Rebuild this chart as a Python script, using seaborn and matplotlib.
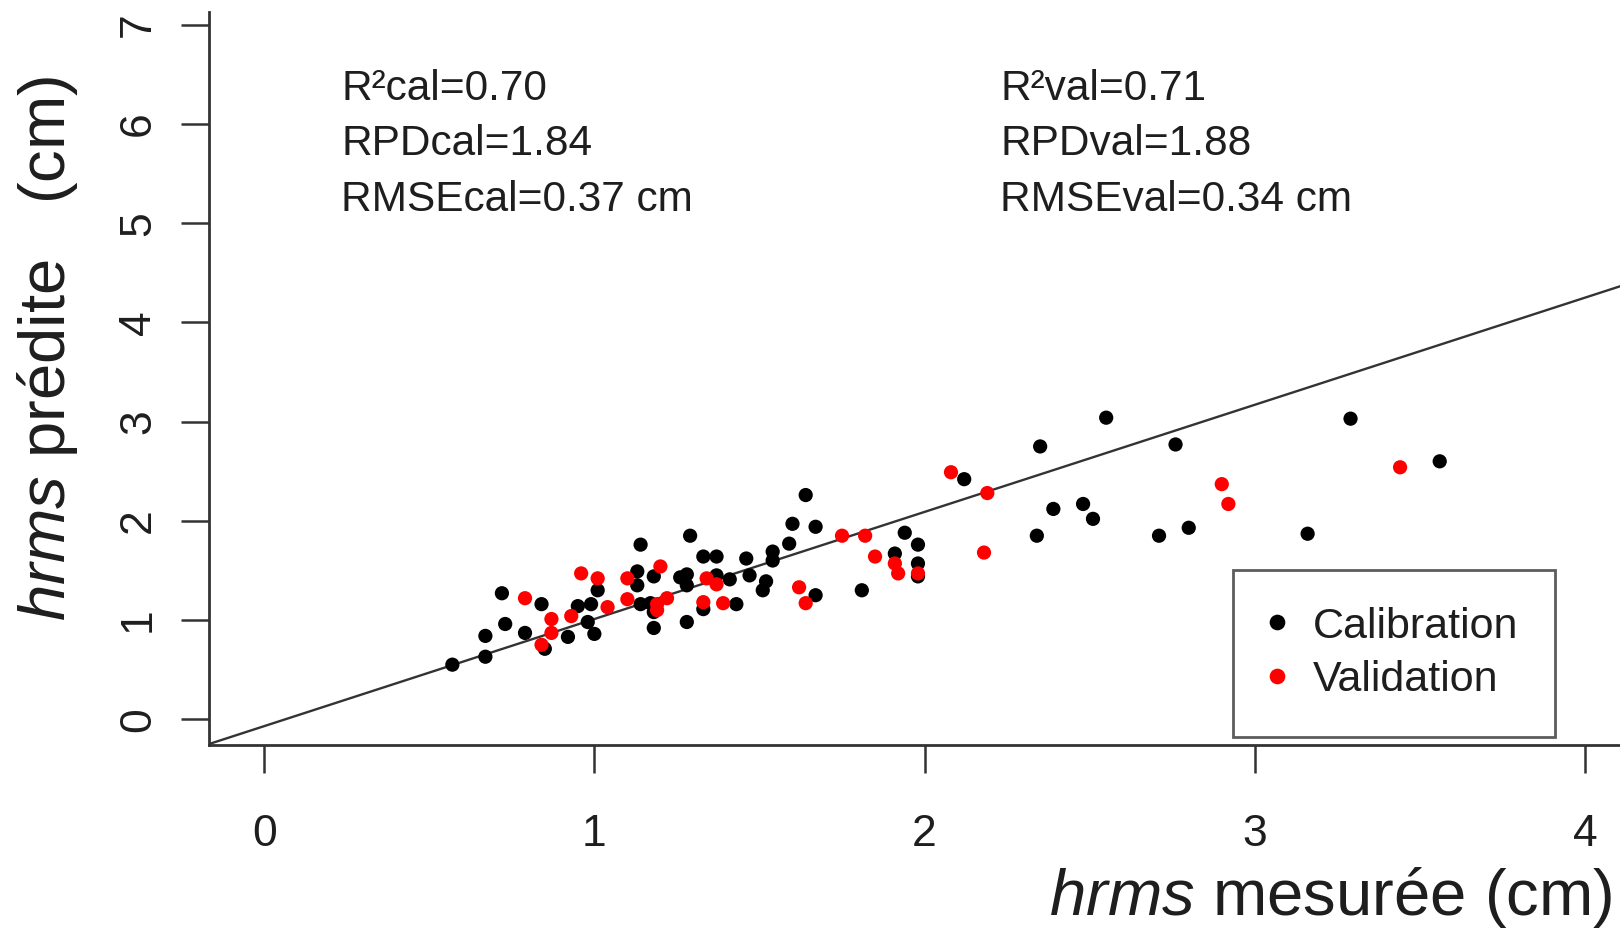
import matplotlib
matplotlib.use("Agg")
import matplotlib.pyplot as plt
import pandas as pd
import seaborn as sns

# calibration set (black)
cal_x = [0.57, 0.67, 0.67, 0.73, 0.72, 0.79, 0.84, 0.85, 0.92, 0.95, 0.98, 1.00, 0.99, 1.01,
         1.13, 1.13, 1.18, 1.14, 1.14, 1.18, 1.18, 1.17, 1.28, 1.29, 1.33, 1.37, 1.26, 1.28,
         1.28, 1.33, 1.37, 1.41, 1.43, 1.46, 1.47, 1.52, 1.51, 1.54, 1.54, 1.59, 1.60, 1.64,
         1.67, 1.67, 1.81, 1.94, 1.98, 1.91, 1.98, 1.98, 2.12, 2.35, 2.55, 2.39, 2.48, 2.51,
         2.34, 2.71, 2.76, 2.80, 3.16, 3.29, 3.56]
cal_y = [0.55, 0.63, 0.84, 0.96, 1.27, 0.87, 1.16, 0.71, 0.83, 1.14, 0.98, 0.86, 1.16, 1.30,
         1.49, 1.35, 1.44, 1.76, 1.16, 1.08, 0.92, 1.17, 0.98, 1.85, 1.64, 1.64, 1.43, 1.46,
         1.35, 1.11, 1.45, 1.41, 1.16, 1.62, 1.45, 1.39, 1.30, 1.69, 1.60, 1.77, 1.97, 2.26,
         1.94, 1.25, 1.30, 1.88, 1.76, 1.67, 1.57, 1.44, 2.42, 2.75, 3.04, 2.12, 2.17, 2.02,
         1.85, 1.85, 2.77, 1.93, 1.87, 3.03, 2.60]

# validation set (red)
val_x = [0.79, 0.96, 1.01, 0.87, 0.87, 0.84, 0.93, 1.04, 1.10, 1.10, 1.20, 1.19, 1.22, 1.19,
         1.34, 1.37, 1.33, 1.39, 1.62, 1.64, 1.75, 1.82, 1.85, 1.91, 1.92, 1.98, 2.08, 2.19,
         2.18, 2.90, 2.92, 3.44]
val_y = [1.22, 1.47, 1.42, 1.01, 0.87, 0.75, 1.04, 1.13, 1.42, 1.21, 1.54, 1.16, 1.22, 1.10,
         1.42, 1.36, 1.18, 1.17, 1.33, 1.17, 1.85, 1.85, 1.64, 1.57, 1.47, 1.47, 2.49, 2.28,
         1.68, 2.37, 2.17, 2.54]

line_intercept = -0.07
line_slope = 1.08

x_ticks = [0, 1, 2, 3, 4]
y_ticks = [0, 1, 2, 3, 4, 5, 6, 7]

stats_cal = ["R²cal=0.70", "RPDcal=1.84", "RMSEcal=0.37 cm"]
stats_val = ["R²val=0.71", "RPDval=1.88", "RMSEval=0.34 cm"]

df = pd.DataFrame({
    "mesuree": cal_x + val_x,
    "predite": cal_y + val_y,
    "jeu": ["Calibration"] * len(cal_x) + ["Validation"] * len(val_x),
})

sns.set_style("white")
plt.rcParams["font.family"] = ["Liberation Sans", "DejaVu Sans"]
plt.rcParams["mathtext.fontset"] = "custom"
plt.rcParams["mathtext.rm"] = "Liberation Sans"
plt.rcParams["mathtext.it"] = "Liberation Sans:italic"

W, H = 1620, 932
fig = plt.figure(figsize=(W / 100, H / 100), dpi=100)
ax = fig.add_axes([209 / W, (H - 745) / H, (W - 209) / W, (745 - 12) / H])

dark = "#333333"
txt = "#1e1e1e"

ax.axline((0, line_intercept), slope=line_slope, color=dark, lw=1.7, zorder=2)
sns.scatterplot(data=df, x="mesuree", y="predite", hue="jeu",
                palette={"Calibration": "black", "Validation": "#ff0000"},
                s=105, linewidth=0, ax=ax, zorder=3)

ax.set_xlim(-0.167, 4.106)
ax.set_ylim(-0.26, 7.13)
ax.set_xticks(x_ticks)
ax.set_yticks(y_ticks)
ax.set_xlabel("")
ax.set_ylabel("")

for side in ["top", "right"]:
    ax.spines[side].set_visible(False)
for side in ["left", "bottom"]:
    ax.spines[side].set_color(dark)
    ax.spines[side].set_linewidth(2.0)

ax.tick_params(axis="both", direction="out", length=20, width=1.8, color=dark,
               labelsize=32, labelcolor=txt, bottom=True, left=True)
ax.tick_params(axis="x", pad=30)
ax.tick_params(axis="y", pad=16)
for lab in ax.get_yticklabels():
    lab.set_rotation(90)
    lab.set_va("center")

for i, s in enumerate(stats_cal):
    ax.text(0.233, 6.355 - i * 0.56, s, fontsize=30.5, color=txt, va="center", ha="left")
for i, s in enumerate(stats_val):
    ax.text(2.229, 6.355 - i * 0.56, s, fontsize=30.5, color=txt, va="center", ha="left")

handles, labels = ax.get_legend_handles_labels()
leg = ax.legend(handles, labels, loc="lower right", bbox_to_anchor=(0.954, 0.011),
                borderaxespad=0, frameon=True, fancybox=False, fontsize=31,
                markerscale=1.1, handlelength=0.3, handletextpad=0.7,
                labelspacing=0.32, borderpad=0.85)
leg.get_frame().set_edgecolor(dark)
leg.get_frame().set_linewidth(2)
for t in leg.get_texts():
    t.set_color(txt)

fig.text(1612 / W, 1 - 897 / H, r"$\mathit{hrms}$ mesurée (cm)", fontsize=47,
         color=txt, ha="right", va="center")
fig.text(48 / W, 1 - 348 / H, r"$\mathit{hrms}$ prédite   (cm)", fontsize=47,
         color=txt, ha="center", va="center", rotation=90)

fig.savefig("out.png", dpi=100)
plt.close(fig)
